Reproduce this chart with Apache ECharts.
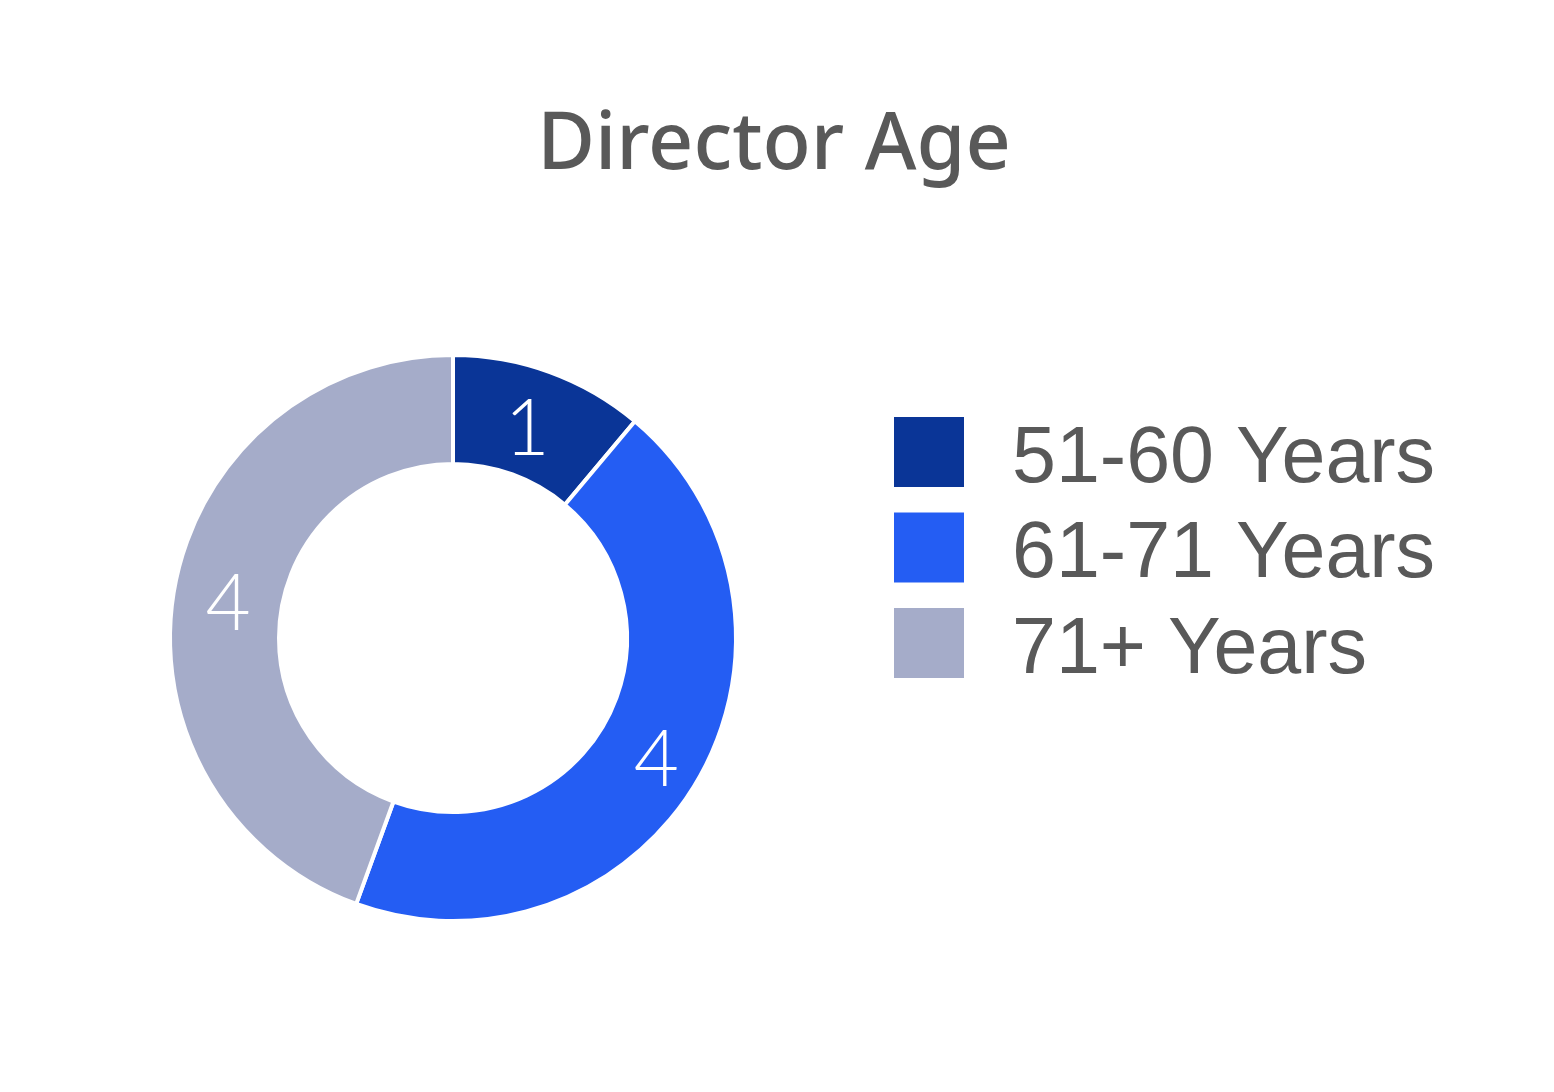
<!DOCTYPE html>
<html lang="en">
<head>
    <meta charset="UTF-8" />
    <title>Director Age</title>
    <style>
        html, body { margin: 0; padding: 0; background: #fff; }
        #chart { width: 1554px; height: 1092px; }
    </style>
</head>
<body>
    <div id="chart"></div>
    <script src="https://cdn.jsdelivr.net/npm/echarts@6/dist/echarts.min.js"></script>
    <script>
        // data
        var categories = ['51-60 Years', '61-71 Years', '71+ Years'];
        var counts = [1, 4, 4];
        var colors = ['#0a3597', '#245df3', '#a5acc9'];

        var chart = echarts.init(document.getElementById('chart'));

        var data = categories.map(function (name, i) {
            var item = { name: name, value: counts[i], itemStyle: { color: colors[i] } };
            // the narrow "1" sits a little left of the slice middle
            if (i === 0) item.label = { offset: [-5, 9] };
            return item;
        });

        var option = {
            backgroundColor: '#fff',
            animation: false,
            title: {
                text: 'Director Age',
                left: 769,
                top: 102,
                textAlign: 'center',
                textStyle: {
                    fontFamily: 'Noto Sans',
                    fontWeight: 500,
                    fontSize: 79,
                    color: '#595959'
                }
            },
            legend: {
                orient: 'vertical',
                left: 887,
                top: 410,
                icon: 'rect',
                itemWidth: 72,
                itemHeight: 72,
                itemGap: 11,
                selectedMode: false,
                formatter: '{t|{name}}',
                textStyle: {
                    padding: [0, 0, 0, 42],
                    rich: {
                        t: {
                            fontFamily: 'Liberation Sans, Arial',
                            fontSize: 79,
                            color: '#595959',
                            padding: [16, 0, 0, 0]
                        }
                    }
                },
                data: categories
            },
            series: [{
                type: 'pie',
                center: [453, 638],
                radius: [174, 283],
                startAngle: 90,
                clockwise: true,
                itemStyle: {
                    borderColor: '#fff',
                    borderWidth: 4
                },
                label: {
                    show: true,
                    position: 'inside',
                    formatter: '{c}',
                    color: '#fff',
                    fontFamily: 'Lato',
                    fontWeight: 300,
                    fontSize: 78,
                    offset: [3, 7]
                },
                labelLine: { show: false },
                emphasis: { disabled: true },
                data: data
            }]
        };

        chart.setOption(option);
    </script>
</body>
</html>
